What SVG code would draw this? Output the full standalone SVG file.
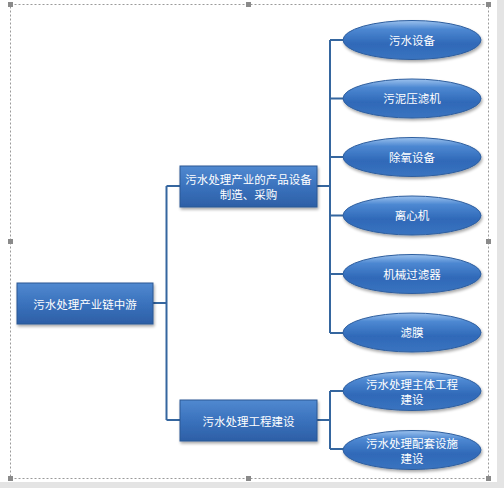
<svg xmlns="http://www.w3.org/2000/svg" width="504" height="488" viewBox="0 0 504 488">
<defs>
<linearGradient id="gBox" x1="0" y1="0" x2="0" y2="1">
<stop offset="0" stop-color="#5189d0"/>
<stop offset="0.5" stop-color="#3a72bd"/>
<stop offset="1" stop-color="#2d5fa6"/>
</linearGradient>
<linearGradient id="gEll" x1="0" y1="0" x2="0" y2="1">
<stop offset="0" stop-color="#9cc2ee"/>
<stop offset="0.22" stop-color="#4d88d2"/>
<stop offset="0.6" stop-color="#2f69b8"/>
<stop offset="1" stop-color="#3a74c0"/>
</linearGradient>
<filter id="sh" x="-10%" y="-20%" width="125%" height="150%">
<feGaussianBlur in="SourceAlpha" stdDeviation="1.5"/>
<feOffset dx="1" dy="2" result="b"/>
<feComponentTransfer><feFuncA type="linear" slope="0.35"/></feComponentTransfer>
<feMerge><feMergeNode/><feMergeNode in="SourceGraphic"/></feMerge>
</filter>
</defs>
<style>
.box{fill:url(#gBox);stroke:#2b5893;stroke-width:1;filter:url(#sh)}
.ell{fill:url(#gEll);stroke:#2e5e9e;stroke-width:1;filter:url(#sh)}
.t{fill:#ffffff;font-family:"Noto Sans CJK SC","Noto Sans",sans-serif;font-size:11.5px;text-anchor:middle;dominant-baseline:central}
.c{fill:none;stroke:#35669f;stroke-width:2}
.h{fill:#8a8a8a}
</style>
<rect x="0" y="0" width="504" height="488" fill="#e4e4e4"/>
<rect x="0" y="0" width="497" height="482" fill="#ffffff"/>
<rect x="10.5" y="4.5" width="478" height="474" fill="none" stroke="#9a9a9a" stroke-width="1" stroke-dasharray="2,2"/>
<g id="handles">
<rect class="h" x="8" y="2" width="5" height="5"/>
<rect class="h" x="246" y="2" width="5" height="5"/>
<rect class="h" x="486" y="2" width="5" height="5"/>
<rect class="h" x="8" y="239" width="5" height="5"/>
<rect class="h" x="486" y="239" width="5" height="5"/>
<rect class="h" x="8" y="476" width="5" height="5"/>
<rect class="h" x="246" y="476" width="5" height="5"/>
<rect class="h" x="486" y="476" width="5" height="5"/>
</g>
<g id="connectors">
<path class="c" d="M153 303 H166.5 M166.5 186 V420 M166.5 186 H180 M166.5 420 H180"/>
<path class="c" d="M317 186 H330 M330 40 V333 M330 40 H343 M330 98.5 H343 M330 157 H343 M330 215.5 H343 M330 274 H343 M330 333 H343"/>
<path class="c" d="M317 420 H330 M330 391 V449 M330 391 H343 M330 449 H343"/>
</g>
<g id="root">
<rect class="box" x="17" y="283" width="136" height="41"/>
<text class="t" x="85" y="303.5">污水处理产业链中游</text>
</g>
<g id="mid1">
<rect class="box" x="180" y="166" width="137" height="41"/>
<text class="t" x="248.5" y="179">污水处理产业的产品设备</text>
<text class="t" x="248.5" y="193.5">制造、采购</text>
</g>
<g id="mid2">
<rect class="box" x="180" y="400" width="137" height="41"/>
<text class="t" x="248.5" y="420.5">污水处理工程建设</text>
</g>
<g id="e1"><ellipse class="ell" cx="412" cy="40" rx="69" ry="19.5"/><text class="t" x="412" y="39.5">污水设备</text></g>
<g id="e2"><ellipse class="ell" cx="412" cy="98.5" rx="69" ry="19.5"/><text class="t" x="412" y="98">污泥压滤机</text></g>
<g id="e3"><ellipse class="ell" cx="412" cy="157" rx="69" ry="19.5"/><text class="t" x="412" y="156.5">除氧设备</text></g>
<g id="e4"><ellipse class="ell" cx="412" cy="215.5" rx="69" ry="19.5"/><text class="t" x="412" y="215">离心机</text></g>
<g id="e5"><ellipse class="ell" cx="412" cy="274" rx="69" ry="19.5"/><text class="t" x="412" y="273.5">机械过滤器</text></g>
<g id="e6"><ellipse class="ell" cx="412" cy="332.5" rx="69" ry="19.5"/><text class="t" x="412" y="332">滤膜</text></g>
<g id="e7"><ellipse class="ell" cx="412" cy="391" rx="69" ry="19.5"/><text class="t" x="412" y="383.5">污水处理主体工程</text><text class="t" x="412" y="398.5">建设</text></g>
<g id="e8"><ellipse class="ell" cx="412" cy="450" rx="69" ry="19.5"/><text class="t" x="412" y="442.5">污水处理配套设施</text><text class="t" x="412" y="457.5">建设</text></g>
</svg>
